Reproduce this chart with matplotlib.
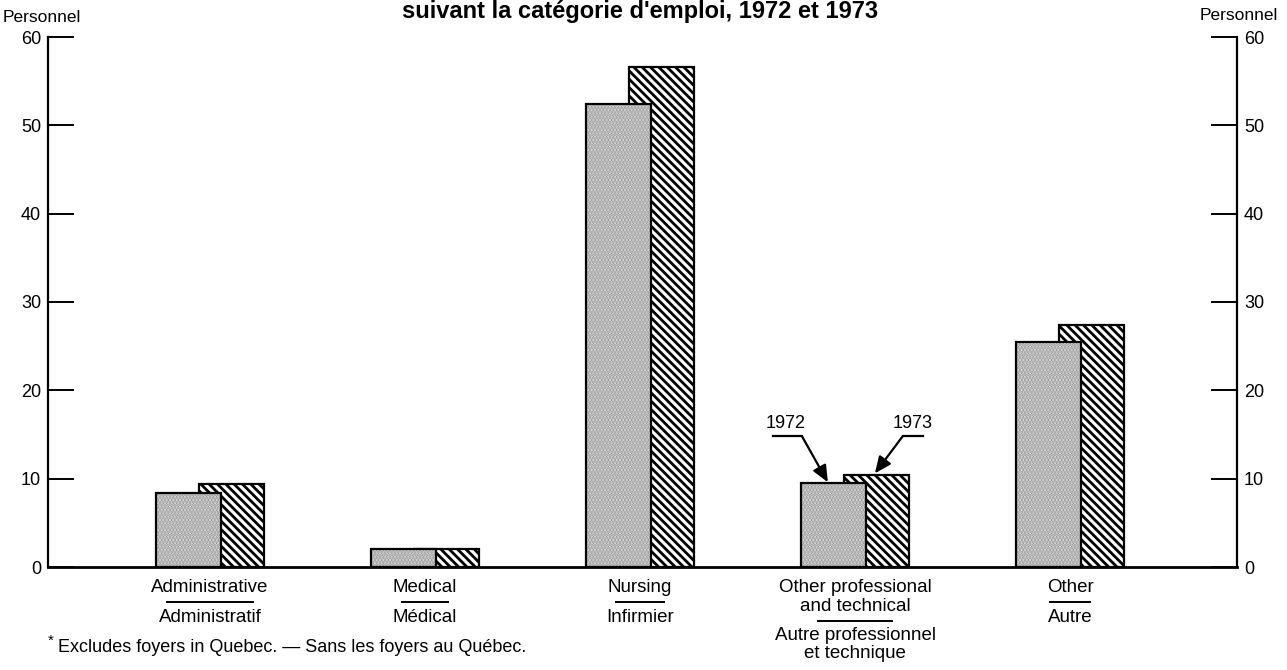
import matplotlib
matplotlib.use("Agg")
import matplotlib.pyplot as plt
import matplotlib.transforms as mtransforms

plt.rcParams['font.family'] = ['Liberation Sans', 'DejaVu Sans']
plt.rcParams['hatch.linewidth'] = 2.0

# data
cats_top = [['Administrative'], ['Medical'], ['Nursing'],
            ['Other professional', 'and technical'], ['Other']]
cats_bottom = [['Administratif'], ['Médical'], ['Infirmier'],
               ['Autre professionnel', 'et technique'], ['Autre']]
sep_widths = [0.40, 0.21, 0.22, 0.34, 0.19]   # underline length, in category units
v1972 = [8.4, 2.0, 52.4, 9.5, 25.5]
v1973 = [9.4, 2.0, 56.6, 10.4, 27.4]
yticks = [0, 10, 20, 30, 40, 50, 60]

W, H = 1287, 670
fig = plt.figure(figsize=(W / 100, H / 100), dpi=100)
ax = fig.add_axes([48 / W, 1 - 567 / H, (1237 - 48) / W, (567 - 37) / H])

x = list(range(len(v1972)))
bw = 0.305
off1, off2 = -0.252, -0.052

# 1973 behind, 1972 in front
ax.bar([i + off2 for i in x], v1973, width=bw, align='edge', facecolor='white',
       edgecolor='black', hatch='\\\\\\\\', linewidth=1.6, zorder=2)
ax.bar([i + off1 for i in x], v1972, width=bw, align='edge', facecolor='#e2e2e2',
       edgecolor='#9a9a9a', hatch='.....', linewidth=0, zorder=3)
ax.bar([i + off1 for i in x], v1972, width=bw, align='edge', fill=False,
       edgecolor='black', linewidth=1.6, zorder=4)

ax.set_xlim(-0.753, 4.777)
ax.set_ylim(0, 60)
ax.set_yticks(yticks)
ax.set_xticks([])
ax.tick_params(axis='y', direction='in', length=19, width=1.4, labelsize=13,
               pad=5, left=True, right=True, labelleft=True, labelright=True)
for s in ['left', 'right']:
    ax.spines[s].set_linewidth(1.6)
ax.spines['bottom'].set_linewidth(2.0)
ax.spines['top'].set_visible(False)

# year call-outs on "Other professional"
k = 3
arrow = dict(arrowstyle='-|>,head_length=0.5,head_width=0.22', color='k', lw=1.6,
             mutation_scale=20, shrinkA=0, shrinkB=0)
ax.plot([k - 0.381, k - 0.247], [14.83, 14.83], color='k', lw=1.6, clip_on=False)
ax.annotate('', xy=(k + off1 + 0.126, v1972[k] + 0.1), xytext=(k - 0.247, 14.83),
            arrowprops=arrow)
ax.text(k - 0.321, 16.3, '1972', ha='center', va='center', fontsize=13)
ax.plot([k + 0.223, k + 0.316], [14.83, 14.83], color='k', lw=1.6, clip_on=False)
ax.annotate('', xy=(k + off2 + 0.145, v1973[k] + 0.2), xytext=(k + 0.223, 14.83),
            arrowprops=arrow)
ax.text(k + 0.27, 16.3, '1973', ha='center', va='center', fontsize=13)

# category labels below the axis
tr = mtransforms.blended_transform_factory(ax.transData, fig.transFigure)
def fy(px):
    return 1 - px / H

step = 18.5
for i in x:
    c = i + (off1 + off2 + bw) / 2
    y = 588
    for line in cats_top[i]:
        ax.text(c, fy(y), line, transform=tr, ha='center', va='center', fontsize=13.5)
        y += step
    ysep = y - step + 14
    ax.plot([c - sep_widths[i] / 2, c + sep_widths[i] / 2], [fy(ysep), fy(ysep)],
            transform=tr, color='k', lw=1.4, clip_on=False)
    y = ysep + 15
    for line in cats_bottom[i]:
        ax.text(c, fy(y), line, transform=tr, ha='center', va='center', fontsize=13.5)
        y += step

# axis titles
fig.text(3 / W, fy(17), 'Personnel', ha='left', va='center', fontsize=12.5)
fig.text(1278 / W, fy(15), 'Personnel', ha='right', va='center', fontsize=12.5)

# title (sits right at the top edge)
fig.text(640 / W, fy(18), "suivant la catégorie d'emploi, 1972 et 1973",
         ha='center', va='baseline', fontsize=17, fontweight='bold')

# footnote
fig.text(48 / W, fy(641), '*', ha='left', va='center', fontsize=11)
fig.text(58 / W, fy(648), 'Excludes foyers in Quebec. — Sans les foyers au Québec.',
         ha='left', va='center', fontsize=13)

fig.savefig('out.png', dpi=100)
